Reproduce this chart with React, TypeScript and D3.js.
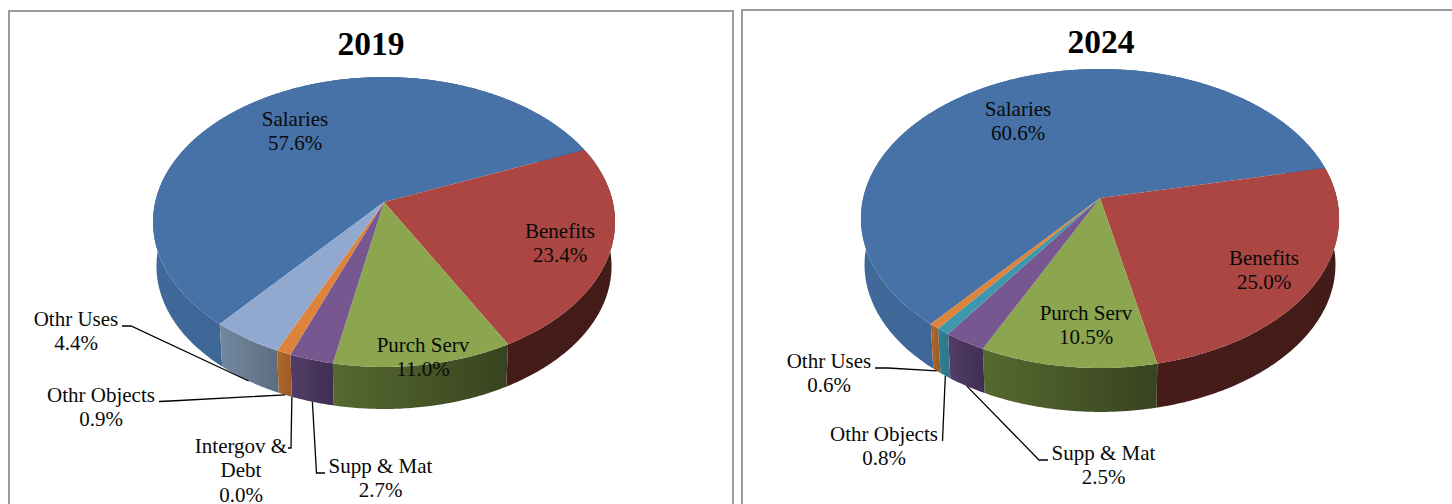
import React from "react";
import * as d3 from "d3";

// Spending shares by object, one 3D pie per year.
const categories2019 = ["Salaries", "Benefits", "Purch Serv", "Supp & Mat", "Intergov & Debt", "Othr Objects", "Othr Uses"];
const values2019 = [57.6, 23.4, 11.0, 2.7, 0.0, 0.9, 4.4];
const categories2024 = ["Salaries", "Benefits", "Purch Serv", "Supp & Mat", "Othr Objects", "Othr Uses"];
const values2024 = [60.6, 25.0, 10.5, 2.5, 0.8, 0.6];

const BLUE = { top: "#4672a8", wall: ["#40699a", "#345781"] };
const RED = { top: "#ab4642", wall: ["#451c19", "#431b18"] };
const GREEN = { top: "#8ba64f", wall: ["#566930", "#38431f"] };
const PURPLE = { top: "#76578f", wall: ["#523d68", "#402e52"] };
const TEAL = { top: "#3e98ad", wall: ["#337f92", "#2f7688"] };
const ORANGE = { top: "#dd833b", wall: ["#b0682c", "#9c5a26"] };
const ICE = { top: "#92a9cf", wall: ["#73899f", "#5c6c82"] };

const palette2019 = [BLUE, RED, GREEN, PURPLE, TEAL, ORANGE, ICE];
const palette2024 = [BLUE, RED, GREEN, PURPLE, TEAL, ORANGE];

type Label = { lines: string[]; x: number; y: number; elbow?: [number, number][] };

const labels2019: Record<string, Label> = {
  Salaries: { lines: ["Salaries"], x: 295, y: 126 },
  Benefits: { lines: ["Benefits"], x: 560, y: 238 },
  "Purch Serv": { lines: ["Purch Serv"], x: 423, y: 352 },
  "Supp & Mat": { lines: ["Supp & Mat"], x: 380.5, y: 473, elbow: [[325, 473], [316.5, 473]] },
  "Intergov & Debt": { lines: ["Intergov &", "Debt"], x: 241, y: 453, elbow: [[288, 448], [291, 448]] },
  "Othr Objects": { lines: ["Othr Objects"], x: 101, y: 402, elbow: [[159, 401.5], [170, 401]] },
  "Othr Uses": { lines: ["Othr Uses"], x: 76, y: 326, elbow: [[122, 326], [131, 326]] },
};

const labels2024: Record<string, Label> = {
  Salaries: { lines: ["Salaries"], x: 1018, y: 116 },
  Benefits: { lines: ["Benefits"], x: 1264, y: 265 },
  "Purch Serv": { lines: ["Purch Serv"], x: 1086, y: 320 },
  "Supp & Mat": { lines: ["Supp & Mat"], x: 1103.5, y: 460, elbow: [[1048, 460], [1039, 460]] },
  "Othr Objects": { lines: ["Othr Objects"], x: 884, y: 441, elbow: [[942.5, 441]] },
  "Othr Uses": { lines: ["Othr Uses"], x: 829, y: 368, elbow: [[875, 368], [888, 368]] },
};

// Perspective of the tilted disc: the hub sits above the ellipse's middle.
type Disc = { cx: number; cy: number; a: number; r: number; k: number; depth: number; shrink: number };

const project = (d: Disc, angle: number, floor: boolean): [number, number] => {
  const u = Math.sin(angle);
  const v = -Math.cos(angle);
  const w = 1 - d.k * v;
  const s = floor ? d.shrink : 1;
  return [d.cx + (s * d.a * u) / w, d.cy + (floor ? d.depth : 0) + (s * d.r * v) / w];
};

const outline = d3.line().curve(d3.curveLinearClosed);

const arcAngles = (a0: number, a1: number) => {
  const n = Math.max(2, Math.ceil((a1 - a0) / 0.01));
  return d3.range(n + 1).map((i) => a0 + ((a1 - a0) * i) / n);
};

const FONT = "'Liberation Serif', serif";

type PieProps = {
  id: string;
  title: string;
  titleX: number;
  titleY: number;
  categories: string[];
  values: number[];
  palette: { top: string; wall: string[] }[];
  labels: Record<string, Label>;
  start: number;
  disc: Disc;
};

function Pie3D({ id, title, titleX, titleY, categories, values, palette, labels, start, disc }: PieProps) {
  const slices = d3
    .pie<number>()
    .sort(null)
    .value((v) => v)
    .startAngle(start)
    .endAngle(start + 2 * Math.PI)(values);

  const wallPath = (a0: number, a1: number) => {
    const angles = arcAngles(a0, a1);
    const upper = angles.map((t) => project(disc, t, false));
    const lower = angles.map((t) => project(disc, t, true)).reverse();
    return outline([...upper, ...lower]) as string;
  };
  const topPath = (a0: number, a1: number) =>
    outline([[disc.cx, disc.cy], ...arcAngles(a0, a1).map((t) => project(disc, t, false))]) as string;

  return (
    <g fontFamily={FONT}>
      <defs>
        {slices.map((_, i) => (
          <linearGradient key={i} id={`${id}-wall-${i}`} x1="0" x2="1" y1="0" y2="0">
            <stop offset="0" stopColor={palette[i].wall[0]} />
            <stop offset="1" stopColor={palette[i].wall[1]} />
          </linearGradient>
        ))}
      </defs>
      {slices.map((s, i) =>
        s.endAngle > s.startAngle ? (
          <path key={i} d={wallPath(s.startAngle, s.endAngle)} fill={`url(#${id}-wall-${i})`} />
        ) : null
      )}
      {slices.map((s, i) =>
        s.endAngle > s.startAngle ? <path key={i} d={topPath(s.startAngle, s.endAngle)} fill={palette[i].top} /> : null
      )}
      {slices.map((s, i) => {
        const label = labels[categories[i]];
        if (!label.elbow) return null;
        const anchor = project(disc, (s.startAngle + s.endAngle) / 2, true);
        return (
          <polyline
            key={i}
            points={[...label.elbow, anchor].map((p) => p.join(",")).join(" ")}
            fill="none"
            stroke="#000"
            strokeWidth={1.3}
          />
        );
      })}
      {slices.map((s, i) => {
        const label = labels[categories[i]];
        const rows = [...label.lines, `${values[i].toFixed(1)}%`];
        return (
          <text key={i} textAnchor="middle" fontSize={21} fill="#0a0a0a">
            {rows.map((row, j) => (
              <tspan key={j} x={label.x} y={label.y + j * 24.4}>
                {row}
              </tspan>
            ))}
          </text>
        );
      })}
      <text x={titleX} y={titleY} textAnchor="middle" fontSize={33.5} fontWeight="bold" fill="#000">
        {title}
      </text>
    </g>
  );
}

const deg = (d: number) => (d * Math.PI) / 180;

export default function App() {
  return (
    <svg
      width={1452}
      height={504}
      viewBox="0 0 1452 504"
      style={{ position: "fixed", left: 0, top: 0, background: "#fff" }}
    >
      <rect x={9} y={11} width={724} height={520} fill="#fff" stroke="#9c9c9c" strokeWidth={2} />
      <rect x={742} y={10} width={740} height={520} fill="#fff" stroke="#9c9c9c" strokeWidth={2} />
      <Pie3D
        id="y2019"
        title="2019"
        titleX={371}
        titleY={55}
        categories={categories2019}
        values={values2019}
        palette={palette2019}
        labels={labels2019}
        start={deg(-140.06)}
        disc={{ cx: 384, cy: 202, a: 228.8, r: 142.2, k: 0.138, depth: 44.5, shrink: 0.985 }}
      />
      <Pie3D
        id="y2024"
        title="2024"
        titleX={1101}
        titleY={53}
        categories={categories2024}
        values={values2024}
        palette={palette2024}
        labels={labels2024}
        start={deg(-140.26)}
        disc={{ cx: 1100, cy: 198, a: 236.8, r: 146.7, k: 0.137, depth: 46.5, shrink: 0.985 }}
      />
    </svg>
  );
}
